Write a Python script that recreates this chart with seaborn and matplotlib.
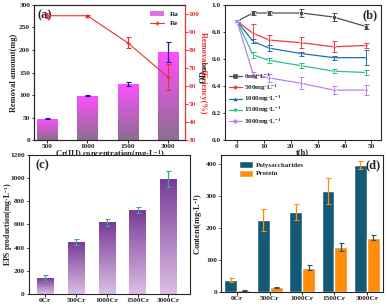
import numpy as np
import pandas as pd
import matplotlib
matplotlib.use("Agg")
import matplotlib.pyplot as plt
from matplotlib.colors import LinearSegmentedColormap
from matplotlib.lines import Line2D
from matplotlib.patches import Patch
import seaborn as sns

sns.set_theme(style="ticks")
plt.rcParams['font.family'] = ['Liberation Serif', 'DejaVu Serif']
plt.rcParams['font.weight'] = 'bold'
plt.rcParams['axes.labelweight'] = 'bold'
plt.rcParams['mathtext.default'] = 'regular'
plt.rcParams['axes.linewidth'] = 0.8

# ---------------- data ----------------
conc_labels = ["500", "1000", "1500", "3000"]
ra_values = [48, 99, 125, 195]
ra_err = [1, 1, 5, 22]
re_values = [99, 99, 84, 65]
re_err = [1.5, 0.5, 3, 7]

t_hours = [0, 6, 12, 24, 36, 48]
od_series = ["0mg·L$^{-1}$", "500mg·L$^{-1}$", "1000mg·L$^{-1}$", "1500mg·L$^{-1}$", "3000mg·L$^{-1}$"]
od_0 = [0.88, 0.94, 0.94, 0.94, 0.91, 0.84]
od_500 = [0.88, 0.79, 0.74, 0.72, 0.69, 0.70]
od_1000 = [0.88, 0.73, 0.68, 0.64, 0.61, 0.61]
od_1500 = [0.88, 0.63, 0.59, 0.55, 0.51, 0.50]
od_3000 = [0.88, 0.49, 0.46, 0.42, 0.37, 0.37]
od_0_err = [0.01, 0.015, 0.015, 0.03, 0.03, 0.02]
od_500_err = [0.01, 0.07, 0.035, 0.04, 0.04, 0.015]
od_1000_err = [0.01, 0.015, 0.02, 0.015, 0.015, 0.055]
od_1500_err = [0.01, 0.02, 0.02, 0.02, 0.015, 0.02]
od_3000_err = [0.01, 0.015, 0.03, 0.045, 0.03, 0.035]

cr_groups = ["0Cr", "500Cr", "1000Cr", "1500Cr", "3000Cr"]
eps_values = [135, 445, 620, 722, 990]
eps_err = [25, 25, 30, 25, 70]

poly_values = [38, 226, 249, 316, 397]
poly_err = [6, 35, 25, 40, 12]
prot_values = [6, 15, 77, 141, 170]
prot_err = [2, 2, 8, 12, 8]

TS = 5.3
LS = 6.0


def gradient_bars(ax, patches, top_color, bottom_color):
    cmap = LinearSegmentedColormap.from_list("g", [bottom_color, top_color])
    xl, yl = ax.get_xlim(), ax.get_ylim()
    grad = np.linspace(0, 1, 256).reshape(-1, 1)
    for p in patches:
        x0, y0 = p.get_x(), p.get_y()
        w, h = p.get_width(), p.get_height()
        p.set_facecolor("none")
        p.set_edgecolor("none")
        im = ax.imshow(grad, cmap=cmap, origin="lower", aspect="auto",
                       extent=[x0, x0 + w, y0, y0 + h], zorder=1.5)
        im.set_clip_path(p)
    ax.set_xlim(xl)
    ax.set_ylim(yl)


def style(ax):
    ax.tick_params(labelsize=TS, length=1.8, width=0.7, pad=1.0)
    for lab in ax.get_xticklabels() + ax.get_yticklabels():
        lab.set_fontweight("bold")


fig = plt.figure(figsize=(3.87, 3.06), dpi=100)

# ---------------- (a) ----------------
axa = fig.add_axes([0.088, 0.542, 0.390, 0.442])
dfa = pd.DataFrame({"conc": conc_labels, "Ra": ra_values})
sns.barplot(data=dfa, x="conc", y="Ra", ax=axa, width=0.5, color="#ff55ff", saturation=1)
axa.set_xlim(-0.32, 3.42)
axa.set_ylim(0, 300)
gradient_bars(axa, list(axa.patches), "#ff50ff", "#8a6e8e")
axa.errorbar(range(len(ra_values)), ra_values, yerr=ra_err, fmt="none",
             ecolor="#1a1a9a", elinewidth=0.9, capsize=1.8, capthick=0.8, zorder=3)
axa.set_yticks(range(0, 301, 50))
axa.set_xlabel("Cr(III) concentration(mg·L$^{-1}$)", fontsize=LS, labelpad=-0.5)
axa.set_ylabel("Removal amount(mg)", fontsize=LS, labelpad=1)
style(axa)
axa.text(0.02, 0.97, "(a)", transform=axa.transAxes, fontsize=9, fontweight="bold",
         va="top", ha="left")

axr = axa.twinx()
axr.errorbar(range(len(re_values)), re_values, yerr=re_err, color="#f03030",
             lw=0.8, marker="+", ms=3, capsize=1.8, elinewidth=0.8, capthick=0.8)
axr.set_ylim(30, 105)
axr.set_yticks(range(30, 101, 10))
axr.set_ylabel("Removal efficiency(%)", fontsize=LS, color="#f03030", rotation=270, labelpad=5)
axr.spines["right"].set_color("#f03030")
style(axr)
axr.tick_params(axis="y", colors="#f03030")
handles = [Patch(facecolor="#e070e8", edgecolor="none"),
           Line2D([0], [0], color="#f03030", lw=0.8, marker="+", ms=3)]
axa.legend(handles, ["Ra", "Re"], loc="upper right", fontsize=5.3, frameon=False,
           handlelength=2.0, handleheight=0.8, borderaxespad=0.4, labelspacing=0.4)

# ---------------- (b) ----------------
axb = fig.add_axes([0.581, 0.542, 0.403, 0.442])
od_all = [od_0, od_500, od_1000, od_1500, od_3000]
err_all = [od_0_err, od_500_err, od_1000_err, od_1500_err, od_3000_err]
colors_b = ["#505050", "#f03c3c", "#1f6fb5", "#2fbf88", "#c07ef0"]
markers_b = ["s", "o", "^", "v", "D"]
rows = []
for name, vals in zip(od_series, od_all):
    for t, v in zip(t_hours, vals):
        rows.append({"t": t, "od": v, "series": name})
dfb = pd.DataFrame(rows)
sns.lineplot(data=dfb, x="t", y="od", hue="series", style="series",
             palette=colors_b, markers=markers_b, dashes=False, ax=axb,
             lw=0.9, markersize=2.2, markeredgewidth=0.5, legend=False)
for vals, errs, c in zip(od_all, err_all, colors_b):
    axb.errorbar(t_hours, vals, yerr=errs, fmt="none", ecolor=c, elinewidth=0.7,
                 capsize=1.8, capthick=0.7)
axb.set_xlim(-4.5, 53.5)
axb.set_ylim(0, 1.0)
axb.set_xticks(range(0, 51, 10))
axb.set_yticks(np.arange(0, 1.01, 0.2))
axb.set_yticklabels([f"{v:.1f}" for v in np.arange(0, 1.01, 0.2)])
axb.set_xlabel("t(h)", fontsize=LS, labelpad=-0.5)
axb.set_ylabel("OD$_{600}$", fontsize=LS, labelpad=1)
style(axb)
axb.text(0.98, 0.97, "(b)", transform=axb.transAxes, fontsize=9, fontweight="bold",
         va="top", ha="right")
hb = [Line2D([0], [0], color=c, lw=0.9, marker=m, ms=2.2, mew=0.5)
      for c, m in zip(colors_b, markers_b)]
axb.legend(hb, od_series, loc="lower left", fontsize=5.0, frameon=False,
           handlelength=1.8, handletextpad=0.4, borderaxespad=0.2,
           labelspacing=0.12, bbox_to_anchor=(0.0, 0.07))

# ---------------- (c) ----------------
axc = fig.add_axes([0.074, 0.040, 0.417, 0.453])
dfc = pd.DataFrame({"grp": cr_groups, "eps": eps_values})
sns.barplot(data=dfc, x="grp", y="eps", ax=axc, width=0.53, color="#7a3e9a", saturation=1)
axc.set_xlim(-0.54, 4.7)
axc.set_ylim(0, 1200)
gradient_bars(axc, list(axc.patches), "#7a3a98", "#dcc0e4")
axc.errorbar(range(len(eps_values)), eps_values, yerr=eps_err, fmt="none",
             ecolor="#3aa88a", elinewidth=0.9, capsize=1.8, capthick=0.8, zorder=3)
axc.set_yticks(range(0, 1201, 200))
axc.set_xlabel("")
axc.set_ylabel("EPS production(mg·L$^{-1}$)", fontsize=5.6)
axc.yaxis.set_label_coords(-0.085, 0.5)
style(axc)
axc.text(0.04, 0.97, "(c)", transform=axc.transAxes, fontsize=9, fontweight="bold",
         va="top", ha="left")

# ---------------- (d) ----------------
axd = fig.add_axes([0.571, 0.045, 0.419, 0.448])
dfd = pd.DataFrame({
    "grp": cr_groups * 2,
    "val": poly_values + prot_values,
    "kind": ["Polysaccharides"] * 5 + ["Protein"] * 5,
})
sns.barplot(data=dfd, x="grp", y="val", hue="kind", ax=axd, width=0.8,
            palette=["#135a78", "#ff8c0a"], saturation=1, legend=False)
n = len(cr_groups)
xs = np.arange(n)
axd.errorbar(xs - 0.2, poly_values, yerr=poly_err, fmt="none", ecolor="#ff8c0a",
             elinewidth=0.9, capsize=1.8, capthick=0.8, zorder=3)
axd.errorbar(xs + 0.2, prot_values, yerr=prot_err, fmt="none", ecolor="#135a78",
             elinewidth=0.9, capsize=1.8, capthick=0.8, zorder=3)
axd.set_xlim(-0.5, 4.5)
axd.set_ylim(0, 428)
axd.set_yticks(range(0, 401, 100))
axd.set_xlabel("")
axd.set_ylabel("Content(mg·L$^{-1}$)", fontsize=LS, labelpad=1)
style(axd)
axd.text(0.985, 0.97, "(d)", transform=axd.transAxes, fontsize=9, fontweight="bold",
         va="top", ha="right")
hd = [Patch(facecolor="#135a78"), Patch(facecolor="#ff8c0a")]
axd.legend(hd, ["Polysaccharides", "Protein"], loc="upper left", fontsize=5.0,
           frameon=False, handlelength=2.0, handleheight=1.2, handletextpad=0.4,
           borderaxespad=0.3, bbox_to_anchor=(0.08, 0.99), labelspacing=0.15)

fig.savefig("out.png", dpi=100)
